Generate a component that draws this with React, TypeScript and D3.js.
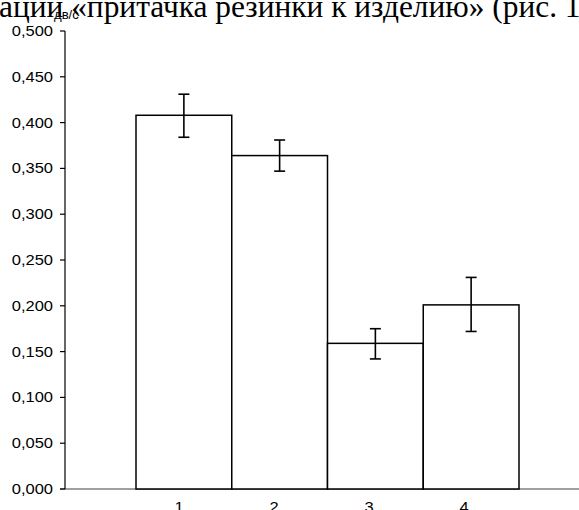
import React from "react";
import * as d3 from "d3";

const categories = ["1", "2", "3", "4"];
const values = [0.408, 0.364, 0.159, 0.201];
const errLow = [0.384, 0.347, 0.142, 0.172];
const errHigh = [0.431, 0.381, 0.175, 0.231];
const yTicks = [0, 0.05, 0.1, 0.15, 0.2, 0.25, 0.3, 0.35, 0.4, 0.45, 0.5];
const unitLabel = "дв/с";
const headerText = "ации «притачка резинки к изделию» (рис. 1";

const W = 579;
const H = 510;
const SX = 1.18;

export default function App() {
  const y = d3.scaleLinear().domain([0, 0.5]).range([489, 31]);
  const x = d3.scaleBand<string>().domain(categories).range([136, 519]).padding(0);
  const lx = d3.scaleBand<string>().domain(categories).range([131.5, 511.5]).padding(0);
  const fmt = (v: number) => v.toFixed(3).replace(".", ",");
  const axisX = 65;
  const font = "Arial, 'Liberation Sans', sans-serif";

  return (
    <svg
      width={W}
      height={H}
      style={{ position: "absolute", left: 0, top: 0, display: "block", background: "#fff" }}
    >
      <rect x={0} y={0} width={W} height={H} fill="#fff" />
      <text
        x={-1}
        y={16.7}
        fontFamily="'Liberation Serif', 'Times New Roman', serif"
        fontSize={31.4}
        fill="#000"
      >
        {headerText}
      </text>

      {/* x baseline */}
      <line x1={60} x2={W} y1={y(0)} y2={y(0)} stroke="#808080" strokeWidth={1.5} />

      {/* bars */}
      {categories.map((c, i) => (
        <rect
          key={c}
          x={x(c)!}
          y={y(values[i])}
          width={x.bandwidth()}
          height={y(0) - y(values[i])}
          fill="#fff"
          stroke="#000"
          strokeWidth={1.5}
        />
      ))}

      {/* error bars */}
      {categories.map((c, i) => {
        const cx = x(c)! + x.bandwidth() / 2;
        return (
          <g key={"e" + c} stroke="#000" strokeWidth={1.6}>
            <line x1={cx} x2={cx} y1={y(errHigh[i])} y2={y(errLow[i])} />
            <line x1={cx - 5.5} x2={cx + 5.5} y1={y(errHigh[i])} y2={y(errHigh[i])} />
            <line x1={cx - 5.5} x2={cx + 5.5} y1={y(errLow[i])} y2={y(errLow[i])} />
          </g>
        );
      })}

      {/* y axis */}
      <line x1={axisX} x2={axisX} y1={y(0.5)} y2={y(0)} stroke="#000" strokeWidth={1.2} />
      {yTicks.map((t) => (
        <g key={t}>
          <line x1={60} x2={axisX} y1={y(t)} y2={y(t)} stroke="#000" strokeWidth={1.2} />
          <text
            transform={`translate(53,${y(t) + 5}) scale(${SX},1)`}
            textAnchor="end"
            fontFamily={font}
            fontSize={14}
            fill="#000"
          >
            {fmt(t)}
          </text>
        </g>
      ))}
      <text
        transform={`translate(54,19) scale(1.05,1)`}
        fontFamily={font}
        fontSize={12.5}
        fill="#000"
      >
        {unitLabel}
      </text>

      {/* x labels */}
      {categories.map((c) => (
        <text
          key={"l" + c}
          transform={`translate(${lx(c)! + lx.bandwidth() / 2},512) scale(${SX},1)`}
          textAnchor="middle"
          fontFamily={font}
          fontSize={14}
          fill="#000"
        >
          {c}
        </text>
      ))}
    </svg>
  );
}
